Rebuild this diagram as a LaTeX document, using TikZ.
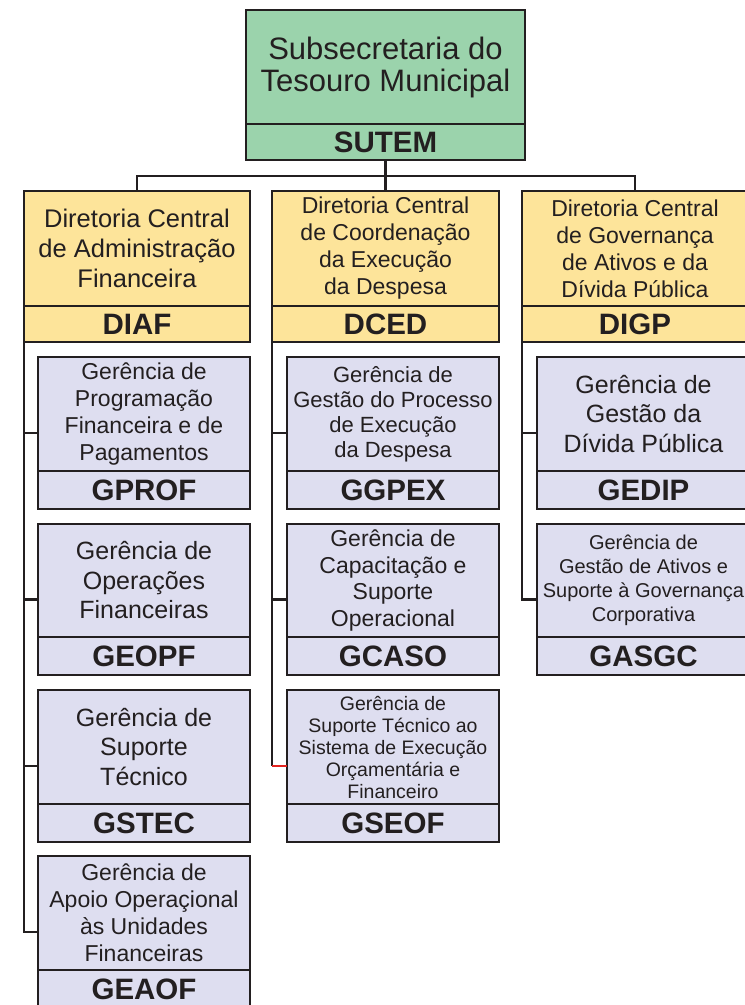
\documentclass[tikz,border=0pt]{standalone}
\usepackage{fontspec}
\setmainfont{Liberation Sans}
\definecolor{ink}{HTML}{231F20}
\definecolor{suteg}{HTML}{9BD3AC}
\definecolor{diry}{HTML}{FDE49A}
\definecolor{gerl}{HTML}{DEDEF0}
\definecolor{redline}{HTML}{E3231F}
\tikzset{
  frame/.style={draw=ink, line width=2.4pt, inner sep=0pt, outer sep=0pt},
  divline/.style={draw=ink, line width=2.4pt},
  conn/.style={draw=ink, line width=2.4pt},
  txt/.style={text=ink, align=center, inner sep=0pt, fill=none, draw=none},
  lbl/.style={text=ink, inner sep=0pt, font=\fontsize{29.5}{30}\selectfont\bfseries},
  sut/.style={fill=suteg, font=\fontsize{31}{32}\selectfont},
  dira/.style={fill=diry, font=\fontsize{25.5}{30}\selectfont},
  dirb/.style={fill=diry, font=\fontsize{23}{27}\selectfont},
  gA/.style={fill=gerl, font=\fontsize{23}{27}\selectfont},
  gB/.style={fill=gerl, font=\fontsize{25}{29.5}\selectfont},
  gC/.style={fill=gerl, font=\fontsize{22}{25}\selectfont},
  gD/.style={fill=gerl, font=\fontsize{23}{26.7}\selectfont},
  gE/.style={fill=gerl, font=\fontsize{19.5}{22}\selectfont},
  gF/.style={fill=gerl, font=\fontsize{20}{24}\selectfont},
}
% #1 name, #2 x1, #3 x2, #4 y1, #5 ydiv, #6 y2, #7 style, #8 text, #9 label
\newcommand{\orgbox}[9]{%
  \node[frame, #7, minimum width={#3-#2}, minimum height={#6-#4}] (#1) at ({(#2+#3)/2},{(#4+#6)/2}) {};
  \coordinate (#1-d) at (#2,#5);
  \draw[divline] (#1.west |- #1-d) -- (#1.east |- #1-d);
  \node[#7, txt] (#1-t) at ({(#2+#3)/2},{(#4+#5)/2}) {#8};
  \node[lbl] (#1-l) at ({(#2+#3)/2},{(#5+#6)/2}) {#9};
}
\begin{document}
\begin{tikzpicture}[x=1pt, y=-1pt]
\useasboundingbox (0,0) rectangle (745,1005);
\fill[white] (0,0) rectangle (745,1005);

\orgbox{sutem}{246}{525}{10}{124}{160}{sut}{Subsecretaria do\\Tesouro Municipal}{SUTEM}

\orgbox{diaf}{24}{250}{191}{306}{342}{dira}{Diretoria Central\\de Administração\\Financeira}{DIAF}
\orgbox{dced}{272}{499}{191}{306}{342}{dirb}{Diretoria Central\\de Coordenação\\da Execução\\da Despesa}{DCED}
\orgbox{digp}{522}{748}{191}{306}{342}{dirb}{Diretoria Central\\de Governança\\de Ativos e da\\Dívida Pública}{DIGP}

\orgbox{gprof}{38}{250}{357}{471}{509}{gA}{Gerência de\\Programação\\Financeira e de\\Pagamentos}{GPROF}
\orgbox{geopf}{38}{250}{524}{637}{675}{gB}{Gerência de\\Operações\\Financeiras}{GEOPF}
\orgbox{gstec}{38}{250}{690}{804}{842}{gB}{Gerência de\\Suporte\\Técnico}{GSTEC}
\orgbox{geaof}{38}{250}{856}{970}{1008}{gA}{Gerência de\\Apoio Operaçional\\às Unidades\\Financeiras}{GEAOF}

\orgbox{ggpex}{287}{499}{357}{471}{509}{gC}{Gerência de\\Gestão do Processo\\de Execução\\da Despesa}{GGPEX}
\orgbox{gcaso}{287}{499}{524}{637}{675}{gD}{Gerência de\\Capacitação e\\Suporte\\Operacional}{GCASO}
\orgbox{gseof}{287}{499}{690}{804}{842}{gE}{Gerência de\\Suporte Técnico ao\\Sistema de Execução\\Orçamentária e\\Financeiro}{GSEOF}

\orgbox{gedip}{537}{750}{357}{471}{509}{gB}{Gerência de\\Gestão da\\Dívida Pública}{GEDIP}
\orgbox{gasgc}{537}{750}{524}{637}{675}{gF}{Gerência de\\Gestão de Ativos e\\Suporte à Governança\\Corporativa}{GASGC}

% top connectors
\coordinate (bus) at (385.5,176);
\draw[conn] (sutem.south) -- (bus);
\draw[conn] (diaf.north) |- (bus) -| (digp.north);
\draw[conn] (bus) -- (dced.north);

% column 1
\draw[conn] (diaf.south west) |- (geaof.west);
\draw[conn] (diaf.south west |- gprof.west) -- (gprof.west);
\draw[conn] (diaf.south west |- geopf.west) -- (geopf.west);
\draw[conn] (diaf.south west |- gstec.west) -- (gstec.west);

% column 2
\draw[conn] (dced.south west) -- (dced.south west |- gseof.west);
\draw[conn] (dced.south west |- ggpex.west) -- (ggpex.west);
\draw[conn] (dced.south west |- gcaso.west) -- (gcaso.west);
\draw[conn, draw=redline] (dced.south west |- gseof.west) -- (gseof.west);

% column 3
\draw[conn] (digp.south west) |- (gasgc.west);
\draw[conn] (digp.south west |- gedip.west) -- (gedip.west);
\end{tikzpicture}
\end{document}
